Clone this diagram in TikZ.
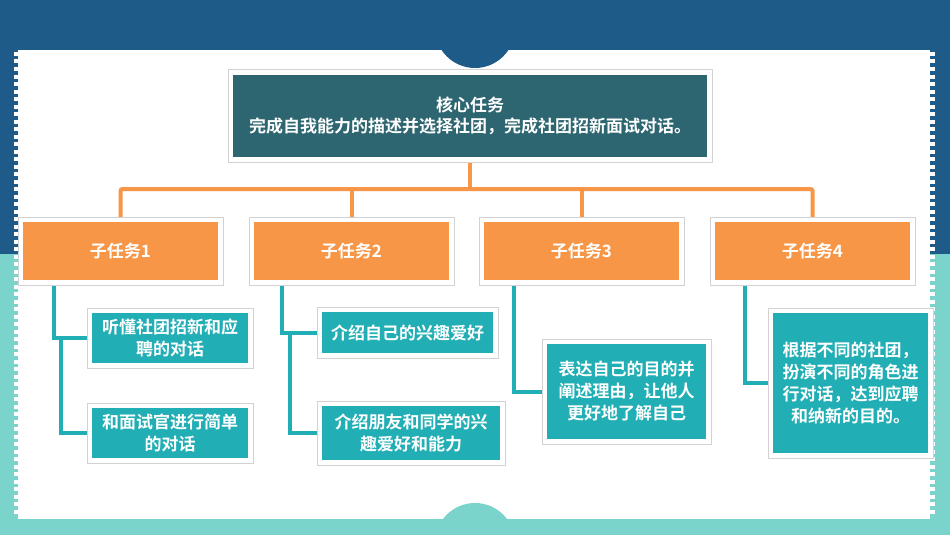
\documentclass[tikz,border=0pt]{standalone}
\usepackage{fontspec}
\setmainfont{Noto Sans CJK SC}[BoldFont={* Bold}]
\usepackage{xcolor}
\usepackage{tikz}

\definecolor{topblue}{HTML}{1F5B88}
\definecolor{lowteal}{HTML}{7AD4CB}
\definecolor{coreteal}{HTML}{2D6670}
\definecolor{taskorange}{HTML}{F79646}
\definecolor{boxteal}{HTML}{21AEB4}
\definecolor{framegray}{HTML}{D2D2D2}

\pgfdeclarelayer{back}
\pgfdeclarelayer{links}
\pgfsetlayers{back,links,main}

\begin{document}
\begin{tikzpicture}[x=1pt,y=-1pt,
	framed/.style={preaction={draw=framegray,line width=6.5pt},draw=white,line width=4.5pt,inner sep=0pt,text=white,align=center,font=\bfseries\fontsize{17}{22}\selectfont},
	corebox/.style={framed,fill=coreteal,minimum width=478.5pt,minimum height=86.5pt,font=\bfseries\fontsize{17}{21}\selectfont},
	taskbox/.style={framed,fill=taskorange,minimum width=199.5pt,minimum height=62.5pt},
	subbox/.style={framed,fill=boxteal},
	oline/.style={draw=taskorange,line width=4pt,rounded corners=2pt},
	tline/.style={draw=boxteal,line width=4pt}]
				\useasboundingbox (0,0) rectangle (950,535);
				\begin{pgfonlayer}{back}
					\fill[topblue] (0,0) rectangle (950,254);
					\fill[lowteal] (0,254) rectangle (950,535);
					\fill[white] (18,50) rectangle (930,519);
					\foreach \y in {52,59.5,...,514} {
						\fill[white] (14,\y) rectangle (18,\y+4);
						\fill[white] (930,\y) rectangle (935,\y+4);
					}
					\fill[topblue] (475,28) circle[radius=40pt];
					\fill[lowteal] (475,543) circle[radius=40pt];
				\end{pgfonlayer}
				
				\node[corebox] (core) at (470,116) {核心任务\\完成自我能力的描述并选择社团，完成社团招新面试对话。};
				
				\node[taskbox] (t1) at (120.5,251) {子任务1};
				\node[taskbox] (t2) at (351.5,251) {子任务2};
				\node[taskbox] (t3) at (581.5,251) {子任务3};
				\node[taskbox] (t4) at (812.5,251) {子任务4};
				
				\node[subbox,minimum width=160.5pt,minimum height=54.5pt] (s1a) at (170,338) {听懂社团招新和应\\聘的对话};
				\node[subbox,minimum width=160.5pt,minimum height=54.5pt] (s1b) at (170,433) {和面试官进行简单\\的对话};
				\node[subbox,minimum width=175.5pt,minimum height=45.5pt] (s2a) at (407.5,332.5) {介绍自己的兴趣爱好};
				\node[subbox,minimum width=182.5pt,minimum height=58.5pt] (s2b) at (411,433) {介绍朋友和同学的兴\\趣爱好和能力};
				\node[subbox,minimum width=163.5pt,minimum height=99.5pt] (s3) at (626.5,391.5) {表达自己的目的并\\阐述理由，让他人\\更好地了解自己};
				\node[subbox,minimum width=159.5pt,minimum height=144.5pt] (s4) at (850.5,383) {根据不同的社团，\\扮演不同的角色进\\行对话，达到应聘\\和纳新的目的。};
				
				\begin{pgfonlayer}{links}
					\coordinate (bus) at (470,189);
					\draw[oline] (core.south) -- (bus);
					\draw[oline] (t1.north) |- (bus) -| (t4.north);
					\draw[oline] (t2.north) -- (t2.north |- bus);
					\draw[oline] (t3.north) -- (t3.north |- bus);
					
					\draw[tline] ([xshift=35pt]t1.south west) |- (s1a.west);
					\draw[tline] ([xshift=42pt]t1.south west |- s1a.west) |- (s1b.west);
					\draw[tline] ([xshift=32pt]t2.south west) |- (s2a.west);
					\draw[tline] ([xshift=40pt]t2.south west |- s2a.west) |- (s2b.west);
					\draw[tline] ([xshift=34pt]t3.south west) |- (s3.west);
					\draw[tline] ([xshift=34pt]t4.south west) |- (s4.west);
				\end{pgfonlayer}
			\end{tikzpicture}
\end{document}
